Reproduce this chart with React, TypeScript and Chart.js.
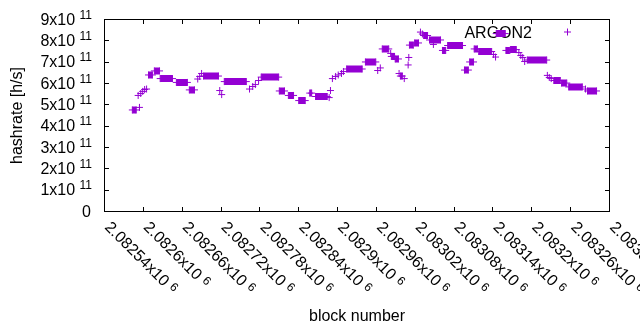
import React, { useEffect, useRef } from 'react';
import { Chart, registerables } from 'chart.js';

Chart.register(...registerables);

const SERIES_LABEL = 'ARGON2';
const X_TITLE = 'block number';
const Y_TITLE = 'hashrate [h/s]';

// Runs of blocks sharing the same hashrate estimate: first block, last block, hashrate [h/s]
const runStart = [
  2082583, 2082592, 2082594, 2082596, 2082599, 2082602, 2082605, 2082608, 2082617, 2082626,
  2082651, 2082671, 2082684, 2082687, 2082690, 2082693, 2082718, 2082721, 2082725, 2082764,
  2082769, 2082773, 2082778, 2082782, 2082810, 2082824, 2082840, 2082857, 2082866, 2082887,
  2082889, 2082892, 2082897, 2082901, 2082906, 2082909, 2082914, 2082943, 2082962, 2082966,
  2082969, 2082982, 2082983, 2082989, 2082995, 2082997, 2083003, 2083009, 2083010, 2083011,
  2083019, 2083028, 2083031, 2083033, 2083042, 2083048, 2083062, 2083070, 2083096, 2083104,
  2083111, 2083118, 2083141, 2083144, 2083145, 2083160, 2083167, 2083180, 2083183, 2083186,
  2083189, 2083193, 2083224, 2083227, 2083230, 2083234, 2083246, 2083257, 2083283, 2083286,
];
const runEnd = [
  2082589, 2082592, 2082594, 2082596, 2082599, 2082602, 2082605, 2082614, 2082625, 2082645,
  2082668, 2082679, 2082684, 2082687, 2082690, 2082716, 2082718, 2082721, 2082759, 2082764,
  2082769, 2082773, 2082778, 2082809, 2082818, 2082832, 2082850, 2082860, 2082884, 2082887,
  2082889, 2082892, 2082897, 2082901, 2082906, 2082909, 2082938, 2082959, 2082962, 2082966,
  2082979, 2082982, 2082988, 2082994, 2082995, 2083000, 2083003, 2083009, 2083010, 2083017,
  2083025, 2083028, 2083031, 2083039, 2083059, 2083048, 2083067, 2083093, 2083102, 2083110,
  2083116, 2083138, 2083141, 2083144, 2083159, 2083166, 2083176, 2083180, 2083183, 2083186,
  2083189, 2083223, 2083224, 2083227, 2083230, 2083244, 2083254, 2083278, 2083283, 2083300,
];
const runRate = [
  4.76e11, 5.44e11, 4.88e11, 5.53e11, 5.63e11, 5.72e11, 5.74e11, 6.40e11, 6.59e11, 6.23e11,
  6.05e11, 5.70e11, 6.21e11, 6.33e11, 6.47e11, 6.35e11, 5.67e11, 5.48e11, 6.09e11, 5.74e11,
  5.86e11, 5.95e11, 6.14e11, 6.30e11, 5.65e11, 5.44e11, 5.20e11, 5.55e11, 5.39e11, 5.34e11,
  5.67e11, 6.23e11, 6.33e11, 6.40e11, 6.47e11, 6.56e11, 6.68e11, 7.01e11, 6.61e11, 6.73e11,
  7.62e11, 7.41e11, 7.27e11, 7.15e11, 6.47e11, 6.35e11, 6.23e11, 6.87e11, 7.22e11, 7.80e11,
  7.90e11, 8.41e11, 8.32e11, 8.25e11, 8.04e11, 7.83e11, 7.55e11, 7.78e11, 6.63e11, 7.01e11,
  7.62e11, 7.50e11, 7.36e11, 7.24e11, 8.34e11, 7.55e11, 7.59e11, 7.45e11, 7.31e11, 7.22e11,
  7.03e11, 7.10e11, 6.38e11, 6.28e11, 6.23e11, 6.14e11, 6.02e11, 5.84e11, 5.74e11, 5.65e11,
];

const X_MIN = 2082540;
const X_MAX = 2083320;
const Y_MIN = 0;
const Y_MAX = 9e11;

const xTickValues = [
  2082540, 2082600, 2082660, 2082720, 2082780, 2082840, 2082900,
  2082960, 2083020, 2083080, 2083140, 2083200, 2083260, 2083320,
];
const xTickLabels = [
  '2.08254x10', '2.0826x10', '2.08266x10', '2.08272x10', '2.08278x10', '2.08284x10', '2.0829x10',
  '2.08296x10', '2.08302x10', '2.08308x10', '2.08314x10', '2.0832x10', '2.08326x10', '2.08332x10',
];
const xTickExp = '6';
const yTickValues = [0, 1e11, 2e11, 3e11, 4e11, 5e11, 6e11, 7e11, 8e11, 9e11];
const yTickLabels = ['0', '1x10', '2x10', '3x10', '4x10', '5x10', '6x10', '7x10', '8x10', '9x10'];
const yTickExp = ['', '11', '11', '11', '11', '11', '11', '11', '11', '11'];

const FONT = "'Liberation Sans', Arial, sans-serif";
const PURPLE = '#9400d3';
const TICK_LEN = 4.5;

function crisp(v: number) {
  return Math.round(v - 0.5) + 0.5;
}

const gnuplotFrame = {
  id: 'gnuplotFrame',
  beforeDatasetsDraw(chart: any) {
    const { ctx, chartArea: a, scales } = chart;
    const xs = scales.x;
    const ys = scales.y;
    ctx.save();
    ctx.strokeStyle = '#000';
    ctx.lineWidth = 1;
    ctx.strokeRect(a.left, a.top, a.right - a.left, a.bottom - a.top);
    ctx.beginPath();
    for (const v of yTickValues) {
      const y = crisp(ys.getPixelForValue(v));
      ctx.moveTo(a.left, y);
      ctx.lineTo(a.left + TICK_LEN, y);
      ctx.moveTo(a.right, y);
      ctx.lineTo(a.right - TICK_LEN, y);
    }
    for (const v of xTickValues) {
      const x = crisp(xs.getPixelForValue(v));
      ctx.moveTo(x, a.bottom);
      ctx.lineTo(x, a.bottom - TICK_LEN);
      ctx.moveTo(x, a.top);
      ctx.lineTo(x, a.top + TICK_LEN);
    }
    ctx.stroke();

    ctx.fillStyle = '#000';
    ctx.textBaseline = 'alphabetic';
    // y tick labels
    yTickValues.forEach((v, i) => {
      const y = ys.getPixelForValue(v);
      const right = 92;
      ctx.textAlign = 'right';
      let ew = 0;
      if (yTickExp[i]) {
        ctx.font = `12px ${FONT}`;
        ew = ctx.measureText(yTickExp[i]).width;
        ctx.fillText(yTickExp[i], right, y - 1);
        ctx.font = `16px ${FONT}`;
        ew += ctx.measureText(' ').width;
        ctx.fillText(yTickLabels[i], right - ew, y + 5);
      } else {
        ctx.font = `16px ${FONT}`;
        ctx.fillText(yTickLabels[i], right - 1, y + 5);
      }
    });
    // x tick labels (rotated)
    xTickValues.forEach((v, i) => {
      const x = xs.getPixelForValue(v);
      ctx.save();
      ctx.translate(x - 0.5, a.bottom + 16.5);
      ctx.rotate(Math.PI / 4);
      ctx.textAlign = 'left';
      ctx.font = `16px ${FONT}`;
      ctx.fillText(xTickLabels[i], 0, 0);
      const w = ctx.measureText(xTickLabels[i] + ' ').width;
      ctx.font = `12px ${FONT}`;
      ctx.fillText(xTickExp, w, -4);
      ctx.restore();
    });
    // axis titles
    ctx.font = `16px ${FONT}`;
    ctx.textAlign = 'center';
    ctx.fillText(X_TITLE, (a.left + a.right) / 2, 321);
    ctx.save();
    ctx.translate(21.5, 115.5);
    ctx.rotate(-Math.PI / 2);
    ctx.fillText(Y_TITLE, 0, 0);
    ctx.restore();
    // key
    ctx.textAlign = 'right';
    ctx.fillText(SERIES_LABEL, 532, 37.5);
    ctx.strokeStyle = PURPLE;
    ctx.beginPath();
    ctx.moveTo(564, 32);
    ctx.lineTo(571, 32);
    ctx.moveTo(567.5, 28.5);
    ctx.lineTo(567.5, 35.5);
    ctx.stroke();
    ctx.restore();
  },
};

export default function App() {
  const ref = useRef<HTMLCanvasElement | null>(null);
  useEffect(() => {
    if (!ref.current) return;
    const pts: { x: number; y: number | null }[] = [];
    runStart.forEach((s, i) => {
      pts.push({ x: s, y: runRate[i] });
      if (runEnd[i] !== s) pts.push({ x: runEnd[i], y: runRate[i] });
      pts.push({ x: runEnd[i], y: null });
    });
    const chart = new Chart(ref.current, {
      type: 'scatter',
      data: {
        datasets: [
          {
            label: SERIES_LABEL,
            data: pts as any,
            showLine: true,
            spanGaps: false,
            borderColor: PURPLE,
            backgroundColor: PURPLE,
            borderWidth: 7,
            borderCapStyle: 'butt',
            tension: 0,
            pointStyle: 'cross',
            pointRadius: 3.5,
            pointBorderWidth: 1,
            pointBorderColor: PURPLE,
            pointBackgroundColor: PURPLE,
          } as any,
        ],
      },
      options: {
        responsive: false,
        animation: false,
        devicePixelRatio: 1,
        events: [],
        layout: { padding: { left: 104.5, top: 19.5, right: 30.5, bottom: 118.5 } },
        plugins: { legend: { display: false }, tooltip: { enabled: false } },
        scales: {
          x: { type: 'linear', display: false, min: X_MIN, max: X_MAX },
          y: { type: 'linear', display: false, min: Y_MIN, max: Y_MAX },
        },
      },
      plugins: [gnuplotFrame],
    });
    return () => chart.destroy();
  }, []);
  return (
    <div style={{ position: 'absolute', left: 0, top: 0, width: 640, height: 330, background: '#fff' }}>
      <canvas ref={ref} width={640} height={330} />
    </div>
  );
}
